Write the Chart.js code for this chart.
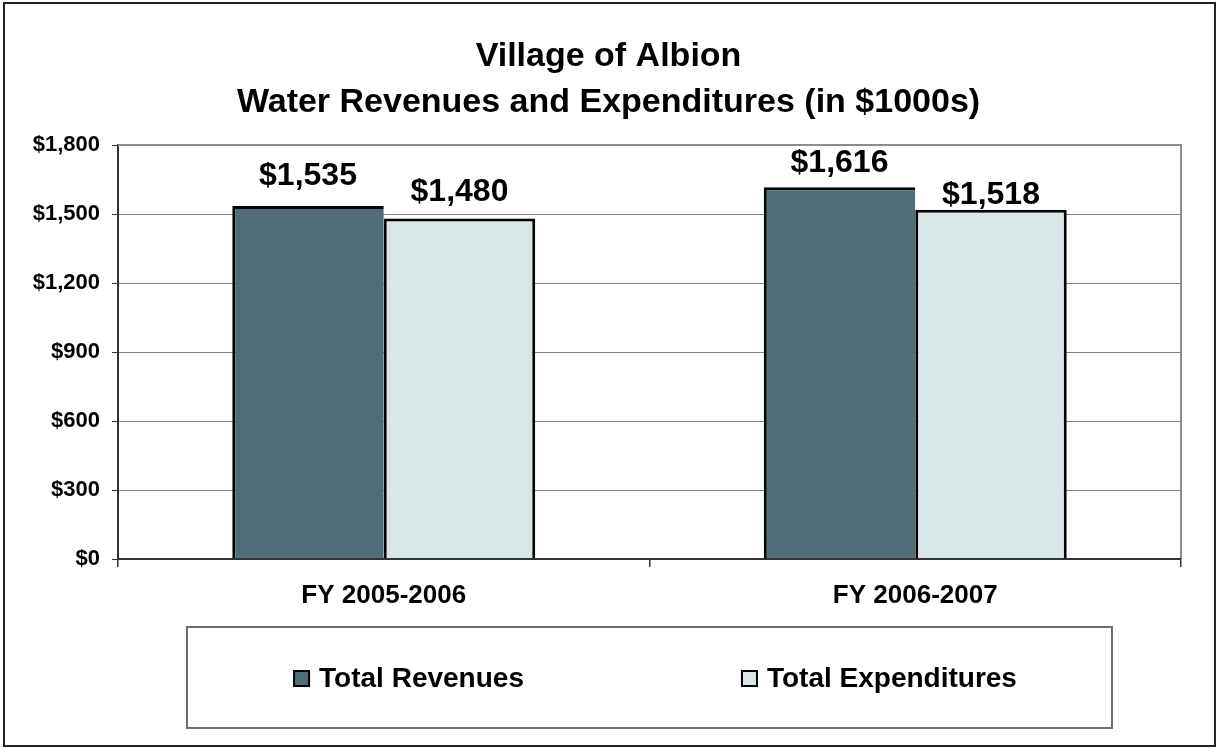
<!DOCTYPE html>
<html>
<head>
<meta charset="utf-8">
<title>Village of Albion - Water Revenues and Expenditures</title>
<script src="https://cdn.jsdelivr.net/npm/chart.js@4"></script>
<style>
  html, body { margin: 0; padding: 0; background: #fff; }
  #wrap { width: 1217px; height: 748px; }
</style>
</head>
<body>
<div id="wrap"><canvas id="waterChart" width="1217" height="748"></canvas></div>
<script>
// data (in $1000s)
const categories = ['FY 2005-2006', 'FY 2006-2007'];
const seriesNames = ['Total Revenues', 'Total Expenditures'];
const revenues = [1535, 1616];
const expenditures = [1480, 1518];
const yTicks = [0, 300, 600, 900, 1200, 1500, 1800];
const titleLines = ['Village of Albion', 'Water Revenues and Expenditures (in $1000s)'];

const FONT = "'Liberation Sans', Arial, Helvetica, sans-serif";
const revColor = '#4F6E77';
const expColor = '#DAE7E8';
// how far each value label sits above its bar (px), like in the original sheet
const labelLift = [[21, 15], [18, 6]];

function money(v) {
    return '$' + Number(v).toLocaleString('en-US');
}

// white background, outer frame, boxed legend
const framePlugin = {
    id: 'framePlugin',
    beforeDraw(chart) {
        const ctx = chart.ctx;
        ctx.save();
        ctx.fillStyle = '#fff';
        ctx.fillRect(0, 0, chart.width, chart.height);
        ctx.restore();
    },
    beforeDatasetsDraw(chart) {
        // grey plot-area border on top and right
        const ctx = chart.ctx;
        const a = chart.chartArea;
        ctx.save();
        ctx.strokeStyle = '#8c8c8c';
        ctx.lineWidth = 2;
        ctx.beginPath();
        ctx.moveTo(a.left, a.top);
        ctx.lineTo(a.right, a.top);
        ctx.lineTo(a.right, a.bottom);
        ctx.stroke();
        ctx.restore();
    },
    afterDraw(chart) {
        const ctx = chart.ctx;
        ctx.save();
        // outer frame
        ctx.strokeStyle = '#222';
        ctx.lineWidth = 2;
        ctx.strokeRect(4, 3, chart.width - 6, chart.height - 5);

        // legend box
        const box = { x: 187, y: 627, w: 925, h: 101 };
        ctx.strokeStyle = '#6e6e6e';
        ctx.lineWidth = 2;
        ctx.strokeRect(box.x, box.y, box.w, box.h);

        ctx.font = 'bold 28px ' + FONT;
        ctx.textBaseline = 'middle';
        ctx.textAlign = 'left';
        const sq = 15, gapText = 10, gapItems = 218;
        const items = chart.data.datasets.map(ds => ({
            text: ds.label,
            color: ds.backgroundColor,
            w: ctx.measureText(ds.label).width
        }));
        let total = 0;
        items.forEach((it, i) => {
            total += sq + gapText + it.w + (i > 0 ? gapItems : 0);
        });
        let x = box.x + box.w / 2 + 6 - total / 2;
        const cy = box.y + box.h / 2 + 1;
        items.forEach(it => {
            ctx.fillStyle = it.color;
            ctx.fillRect(x, cy - sq / 2, sq, sq);
            ctx.strokeStyle = '#000';
            ctx.lineWidth = 2;
            ctx.strokeRect(x, cy - sq / 2, sq, sq);
            ctx.fillStyle = '#000';
            ctx.fillText(it.text, x + sq + gapText, cy + 1);
            x += sq + gapText + it.w + gapItems;
        });
        ctx.restore();
    }
};

// value labels above bars
const valueLabels = {
    id: 'valueLabels',
    afterDatasetsDraw(chart) {
        const ctx = chart.ctx;
        ctx.save();
        ctx.font = 'bold 32px ' + FONT;
        ctx.fillStyle = '#000';
        ctx.textAlign = 'center';
        ctx.textBaseline = 'alphabetic';
        chart.data.datasets.forEach((ds, di) => {
            const meta = chart.getDatasetMeta(di);
            meta.data.forEach((bar, i) => {
                ctx.fillText(money(ds.data[i]), bar.x, bar.y - labelLift[di][i]);
            });
        });
        ctx.restore();
    }
};

const ctx = document.getElementById('waterChart').getContext('2d');
new Chart(ctx, {
    type: 'bar',
    data: {
        labels: categories,
        datasets: [
            {
                label: seriesNames[0],
                data: revenues,
                backgroundColor: revColor,
                borderColor: '#000',
                borderWidth: { top: 3, left: 3, right: 0, bottom: 0 },
                borderSkipped: false,
                categoryPercentage: 0.57,
                barPercentage: 1
            },
            {
                label: seriesNames[1],
                data: expenditures,
                backgroundColor: expColor,
                borderColor: '#000',
                borderWidth: { top: 3, left: 3, right: 3, bottom: 0 },
                borderSkipped: false,
                categoryPercentage: 0.57,
                barPercentage: 1
            }
        ]
    },
    options: {
        responsive: false,
        animation: false,
        layout: { padding: { left: 0, right: 0, top: 0, bottom: 129 } },
        plugins: {
            legend: { display: false },
            tooltip: { enabled: false },
            title: {
                display: true,
                text: titleLines,
                color: '#000',
                font: { family: FONT, size: 34, weight: 'bold', lineHeight: '46px' },
                padding: { top: 34, bottom: 19 }
            }
        },
        scales: {
            x: {
                afterFit: s => { s.height = 60; },
                grid: {
                    offset: true,
                    drawOnChartArea: false,
                    tickLength: 8,
                    color: '#333',
                    lineWidth: 1.5
                },
                border: { color: '#333', width: 2, z: 1 },
                ticks: {
                    color: '#000',
                    font: { family: FONT, size: 26, weight: 'bold' },
                    padding: 13
                }
            },
            y: {
                min: 0,
                max: 1800,
                afterBuildTicks: s => { s.ticks = yTicks.map(v => ({ value: v })); },
                afterFit: s => { s.width = 118; },
                grid: {
                    color: '#808080',
                    lineWidth: 1,
                    tickLength: 6,
                    tickColor: '#333'
                },
                border: { color: '#333', width: 2 },
                ticks: {
                    color: '#000',
                    font: { family: FONT, size: 22, weight: 'bold' },
                    padding: 12,
                    callback: v => money(v)
                }
            },
            yRight: {
                position: 'right',
                display: true,
                grid: { display: false },
                border: { display: false },
                ticks: { display: false },
                afterFit: s => { s.width = 36; }
            }
        }
    },
    plugins: [framePlugin, valueLabels]
});
</script>
</body>
</html>
